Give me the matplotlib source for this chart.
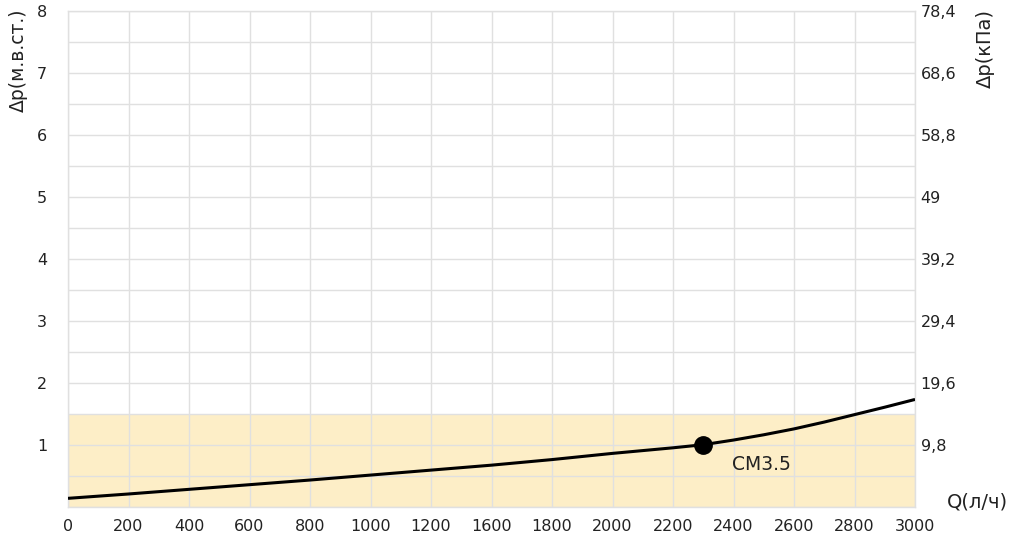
import numpy as np
import matplotlib
matplotlib.use("Agg")
import matplotlib.pyplot as plt

plt.rcParams["font.family"] = ["DejaVu Sans"]

# x tick labels as printed on the chart (note: 1400 is absent)
q_ticks = [0, 200, 400, 600, 800, 1000, 1200, 1600, 1800, 2000,
           2200, 2400, 2600, 2800, 3000]
q_tick_labels = [str(v) for v in q_ticks]

# curve in the chart's own Q units
q_curve = [0, 200, 400, 600, 800, 1000, 1200, 1600, 1800, 2000,
           2200, 2300, 2400, 2500, 2600, 2700, 2800, 2900, 3000]
dp_curve = [0.135, 0.205, 0.28, 0.355, 0.43, 0.51, 0.59, 0.67, 0.76, 0.86,
            0.95, 1.0, 1.075, 1.16, 1.255, 1.365, 1.485, 1.605, 1.73]

point_q = 2300
point_dp = 1.0
point_label = "CM3.5"

zone_top = 1.5

left_ticks = [1, 2, 3, 4, 5, 6, 7, 8]
right_ticks = [9.8, 19.6, 29.4, 39.2, 49, 58.8, 68.6, 78.4]
right_labels = ["9,8", "19,6", "29,4", "39,2", "49", "58,8", "68,6", "78,4"]

GRID = "#e0e0e0"
TXT = "#222222"

pos_ticks = np.arange(len(q_ticks))


def qpos(q):
    return np.interp(q, q_ticks, pos_ticks)


fig = plt.figure(figsize=(10.19, 5.35), dpi=100)
ax = fig.add_axes([68 / 1019, 28.3 / 535, 847 / 1019, 496 / 535])

ax.axhspan(0, zone_top, color="#fdeec7", zorder=0, lw=0)
ax.plot(qpos(q_curve), dp_curve, color="black", lw=2.2, zorder=3,
        solid_capstyle="butt", solid_joinstyle="round")
ax.plot([qpos(point_q)], [point_dp], "o", color="black", ms=12.5, zorder=4)
ax.annotate(point_label, (qpos(point_q), point_dp), xytext=(21, -14),
            textcoords="offset points", fontsize=13.5, color=TXT,
            ha="left", va="center")

ax.set_xlim(0, len(q_ticks) - 1)
ax.set_ylim(0, 8)
ax.set_xticks(pos_ticks)
ax.set_xticklabels(q_tick_labels)
ax.set_yticks(np.arange(0, 8.01, 0.5), minor=False)
ax.set_yticklabels(["" if (v == 0 or v % 1) else f"{int(v)}"
                    for v in np.arange(0, 8.01, 0.5)])
ax.grid(True, color=GRID, lw=1.0, zorder=1)
ax.set_axisbelow(False)
for s in ax.spines.values():
    s.set_color(GRID)
    s.set_linewidth(1.0)
ax.tick_params(axis="both", length=0, labelsize=11.5, colors=TXT)
ax.tick_params(axis="y", pad=15)
ax.tick_params(axis="x", pad=9)

axr = ax.twinx()
axr.set_ylim(0, 78.4)
axr.set_yticks(right_ticks)
axr.set_yticklabels(right_labels)
axr.tick_params(axis="y", length=0, labelsize=11.5, colors=TXT, pad=4)
for s in axr.spines.values():
    s.set_visible(False)

fig.text(18 / 1019, 1 - 9 / 535, "Δp(м.в.ст.)", rotation=90, ha="center",
         va="top", fontsize=13.5, color=TXT)
fig.text(985 / 1019, 1 - 9 / 535, "Δp(кПа)", rotation=90, ha="center",
         va="top", fontsize=14, color=TXT)
fig.text(977 / 1019, 1 - 502 / 535, "Q(л/ч)", ha="center", va="center",
         fontsize=14, color=TXT)

fig.savefig("out.png", dpi=100)
